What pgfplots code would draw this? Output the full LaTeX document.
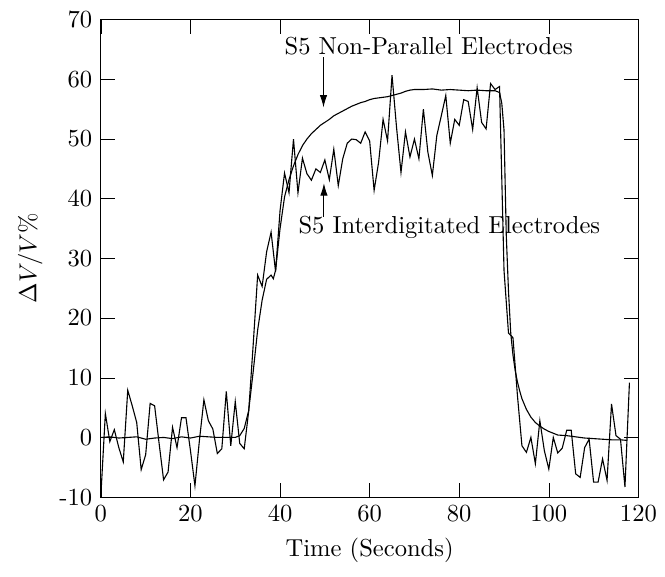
\documentclass[border=0pt]{standalone}
\usepackage{pgfplots}
\usepackage{pgfplotstable}
\usetikzlibrary{arrows.meta}
\pgfplotsset{compat=1.18}

% interdigitated electrodes (noisy trace)
\pgfplotstableread{
t v
0 -9.7
1 4.0
2 -0.7
3 1.3
4 -1.7
5 -4.1
6 7.9
7 5.3
8 2.5
9 -5.4
10 -2.9
11 5.7
12 5.3
13 -1.0
14 -7.1
15 -5.8
16 1.7
17 -1.7
18 3.3
19 3.3
20 -2.2
21 -8.1
22 -0.5
23 6.3
24 2.8
25 1.4
26 -2.7
27 -1.9
28 7.7
29 -1.4
30 6.0
31 -1.0
32 -1.9
33 4.4
34 15.5
35 27.2
36 25.3
37 31.1
38 34.4
39 27.8
40 38.0
41 44.3
42 41.0
43 50.0
44 41.0
45 46.8
46 44.2
47 43.1
48 45.0
49 44.4
50 46.5
51 43.2
52 48.3
53 42.2
54 46.7
55 49.3
56 50.0
57 49.9
58 49.3
59 51.2
60 49.7
61 41.4
62 46.1
63 53.3
64 49.7
65 60.7
66 52.0
67 44.4
68 51.2
69 47.0
70 50.0
71 46.7
72 55.0
73 47.8
74 43.9
75 50.6
76 53.9
77 57.3
78 49.3
79 53.3
80 52.3
81 56.6
82 56.3
83 51.6
84 58.6
85 52.8
86 51.7
87 59.3
88 58.3
89 58.8
90 28.0
91 17.5
92 16.7
93 7.0
94 -1.4
95 -2.5
96 0.0
97 -4.4
98 2.8
99 -2.2
100 -5.3
101 0.0
102 -2.6
103 -1.8
104 1.2
105 1.2
106 -6.1
107 -6.7
108 -1.7
109 -0.3
110 -7.5
111 -7.5
112 -3.6
113 -7.2
114 5.6
115 0.3
116 -0.3
117 -8.3
118 9.2
}\interdig

% non-parallel electrodes (smooth trace)
\pgfplotstableread{
t v
0 0.0
2 0.1
4 -0.1
6 0.0
8 0.1
10 -0.3
12 -0.1
14 0.0
16 -0.2
18 0.1
20 -0.1
22 0.2
24 0.1
26 0.0
28 0.0
30 0.0
31 0.3
32 1.5
33 4.5
34 11.0
35 18.0
36 23.0
37 26.5
38 27.2
38.5 26.6
39 28.0
40 35.0
41 40.3
42 43.2
43 45.5
44 47.4
45 48.9
46 50.0
47 50.9
48 51.6
49 52.3
50 52.8
51 53.3
52 53.9
53 54.3
54 54.7
55 55.1
56 55.5
57 55.8
58 56.1
59 56.3
60 56.6
61 56.8
62 56.9
63 57.0
64 57.1
65 57.3
66 57.5
67 57.7
68 58.0
69 58.2
70 58.3
72 58.3
74 58.4
76 58.2
78 58.3
80 58.2
82 58.1
84 58.2
86 58.1
88 58.1
89 57.8
89.5 56.0
90 51.5
90.5 34.0
91 24.5
91.5 17.5
92 13.8
92.5 11.2
93 9.3
93.5 7.8
94 6.5
95 4.7
96 3.4
97 2.5
98 1.9
99 1.4
100 1.0
101 0.7
102 0.4
104 0.3
106 0.1
108 -0.1
110 -0.2
112 -0.3
114 -0.4
116 -0.4
117.5 -0.5
}\nonpar

\begin{document}
\begin{tikzpicture}
\begin{axis}[
  scale only axis,
  width=7.69cm,
  height=6.83cm,
  xmin=0, xmax=120,
  ymin=-10, ymax=70,
  xtick={0,20,40,60,80,100,120},
  ytick={-10,0,10,20,30,40,50,60,70},
  yticklabels={-10,0,10,20,30,40,50,60,70},
  major tick length=0.2cm,
  xlabel={Time (Seconds)},
  ylabel={$\Delta V/V\%$},
  axis line style={black},
  tick style={black},
]
\addplot[black, line width=0.45pt] table[x=t, y=v] {\interdig};
\addplot[black, line width=0.45pt] table[x=t, y=v] {\nonpar};

\node at (axis cs:73.2,65.5) {S5 Non-Parallel Electrodes};
\draw[-{Latex[length=5pt,width=3pt]}] (axis cs:49.7,63.7) -- (axis cs:49.7,55.3);
\node at (axis cs:77.8,35.2) {S5 Interdigitated Electrodes};
\draw[-{Latex[length=5pt,width=3pt]}] (axis cs:49.8,37.0) -- (axis cs:49.8,42.6);
\end{axis}
% a little blank room round the picture, as in the original
\path ([xshift=-4pt]current bounding box.west);
\path ([yshift=1.2pt]current bounding box.north);
\path ([yshift=-2pt]current bounding box.south);
\end{tikzpicture}
\end{document}
